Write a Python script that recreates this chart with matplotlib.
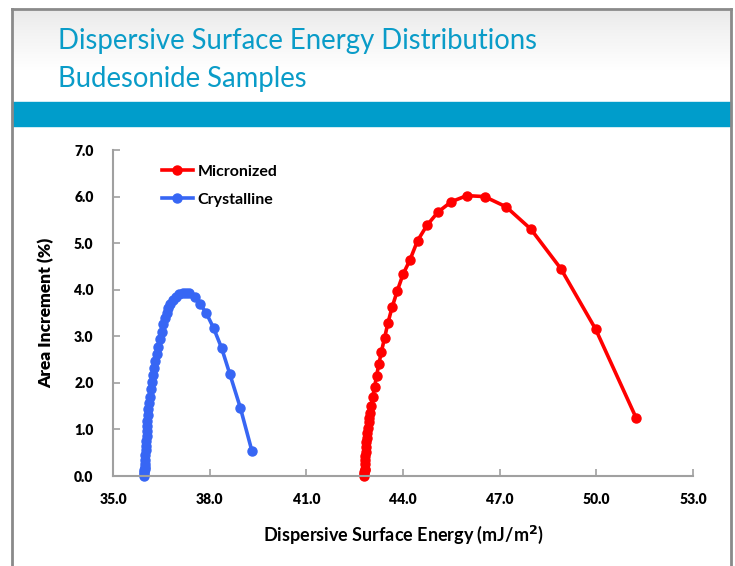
import matplotlib
matplotlib.use("Agg")
import matplotlib.pyplot as plt
import numpy as np
from matplotlib.patches import Rectangle

plt.rcParams['font.family'] = ['Lato', 'DejaVu Sans']

# values
micro_x = [42.80, 42.80, 42.805, 42.81, 42.81, 42.815, 42.82, 42.83, 42.84, 42.85,
           42.86, 42.87, 42.89, 42.91, 42.93, 42.95, 42.97, 43.01, 43.06, 43.12,
           43.18, 43.25, 43.33, 43.43, 43.53, 43.66, 43.82, 44.00, 44.21, 44.45,
           44.74, 45.09, 45.50, 45.98, 46.53, 47.20, 47.97, 48.90, 49.98, 51.24]
micro_y = [0.00, 0.04, 0.08, 0.12, 0.16, 0.25, 0.34, 0.43, 0.52, 0.62,
           0.72, 0.82, 0.93, 1.04, 1.16, 1.25, 1.35, 1.51, 1.70, 1.92,
           2.15, 2.40, 2.67, 2.97, 3.28, 3.62, 3.97, 4.33, 4.63, 5.05,
           5.38, 5.67, 5.89, 6.02, 6.00, 5.78, 5.30, 4.45, 3.15, 1.24]

cryst_x = [35.97, 35.97, 35.975, 35.975, 35.98, 35.985, 35.99, 35.995, 36.00, 36.01,
           36.02, 36.03, 36.04, 36.05, 36.06, 36.07, 36.08, 36.10, 36.12, 36.15,
           36.17, 36.20, 36.23, 36.27, 36.31, 36.35, 36.41, 36.45, 36.51, 36.55,
           36.61, 36.67, 36.72, 36.78, 36.86, 36.96, 37.06, 37.16, 37.27, 37.37,
           37.54, 37.70, 37.90, 38.12, 38.37, 38.63, 38.95, 39.31]
cryst_y = [0.00, 0.04, 0.08, 0.12, 0.16, 0.20, 0.25, 0.35, 0.45, 0.55,
           0.65, 0.75, 0.85, 0.96, 1.07, 1.18, 1.30, 1.43, 1.57, 1.70,
           1.86, 2.01, 2.17, 2.31, 2.48, 2.62, 2.78, 2.94, 3.10, 3.26,
           3.39, 3.51, 3.60, 3.69, 3.78, 3.85, 3.90, 3.94, 3.94, 3.92,
           3.85, 3.70, 3.49, 3.18, 2.75, 2.18, 1.47, 0.54]

x_ticks = [35.0, 38.0, 41.0, 44.0, 47.0, 50.0, 53.0]
y_ticks = [0.0, 1.0, 2.0, 3.0, 4.0, 5.0, 6.0, 7.0]

W, H = 735, 566
fig = plt.figure(figsize=(W / 100, H / 100), dpi=100)

# slide background in pixel coordinates
bg = fig.add_axes([0, 0, 1, 1])
bg.set_xlim(0, W)
bg.set_ylim(H, 0)
bg.axis('off')
grad = np.linspace(0, 1, 100).reshape(-1, 1)
grad = np.clip(grad * 1.5, 0, 1)
bg.imshow(grad, cmap='Greys_r', vmin=-5, vmax=1, extent=[12, 731, 102, 9],
          aspect='auto', zorder=1)
bg.add_patch(Rectangle((12, 102), 719, 24, color='#009dcb', zorder=2))
gray = '#8a8a8a'
bg.plot([12, 12], [9, H], color=gray, lw=2, zorder=3)
bg.plot([731, 731], [9, H], color=gray, lw=2, zorder=3)
bg.plot([12, 731], [9, 9], color=gray, lw=2, zorder=3)
title_color = '#0a9cc8'
bg.text(58, 49, "Dispersive Surface Energy Distributions", fontsize=19.8,
        color=title_color, va='baseline', ha='left')
bg.text(58, 87, "Budesonide Samples", fontsize=19.8,
        color=title_color, va='baseline', ha='left')

ax = fig.add_axes([113 / W, (H - 476) / H, (693 - 113) / W, (476 - 150) / H])
ax.patch.set_alpha(0)
ax.plot(micro_x, micro_y, color='#ff0000', lw=2.6, marker='o', ms=6.5,
        label='Micronized', clip_on=False)
ax.plot(cryst_x, cryst_y, color='#3766f4', lw=2.6, marker='o', ms=6.5,
        label='Crystalline', clip_on=False)

ax.set_xlim(35, 53)
ax.set_ylim(0, 7)
ax.set_xticks(x_ticks)
ax.set_yticks(y_ticks)
ax.set_xticklabels(["%.1f" % v for v in x_ticks])
ax.set_yticklabels(["%.1f" % v for v in y_ticks])
for s in ['top', 'right']:
    ax.spines[s].set_visible(False)
for s in ['left', 'bottom']:
    ax.spines[s].set_color('#a0a0a0')
    ax.spines[s].set_linewidth(1.5)
ax.tick_params(direction='in', length=5, width=1.2, color='#a0a0a0',
               labelsize=10)
ax.tick_params(axis='y', pad=14)
ax.tick_params(axis='x', pad=12)
for lab in ax.get_xticklabels() + ax.get_yticklabels():
    lab.set_fontweight('heavy')

ax.set_xlabel("Dispersive Surface Energy (mJ/m$^\\mathbf{2}$)", fontsize=13,
              fontweight='bold', labelpad=13)
ax.set_ylabel("Area Increment (%)", fontsize=12.5, fontweight='heavy', labelpad=14)

leg = ax.legend(loc='upper left', bbox_to_anchor=(0.06, 0.999), frameon=False,
                handlelength=1.9, prop={'weight': 'bold', 'size': 11.5},
                labelspacing=0.85, handletextpad=0.3)

fig.savefig("out.png", dpi=100)
